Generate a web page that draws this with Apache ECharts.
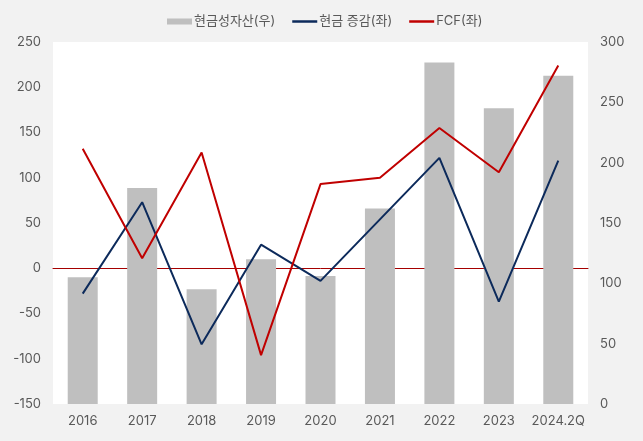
<!DOCTYPE html>
<html><head><meta charset="utf-8">
<script src="https://cdn.jsdelivr.net/npm/echarts@6/dist/echarts.min.js"></script>
<style>html,body{margin:0;padding:0;background:#f2f2f2;}#c{width:643px;height:441px;}</style>
</head><body><div id="c"></div>
<script>
const categories = ['2016','2017','2018','2019','2020','2021','2022','2023','2024.2Q'];
const cashAssets = [105, 179, 95, 120, 106, 162, 283, 245, 272];
const cashChange = [-28, 73, -84, 26, -14, 54, 122, -37, 119];
const fcf = [132, 11, 128, -96, 93, 100, 155, 106, 224];
const leftTicks = {min: -150, max: 250, interval: 50};
const rightTicks = {min: 0, max: 300, interval: 50};

const font = 'Inter, "Noto Sans CJK KR", sans-serif';
const chart = echarts.init(document.getElementById('c'));
chart.setOption({
  backgroundColor: '#f2f2f2',
  textStyle: {fontFamily: font},
  legend: {
    top: 10, left: 162, itemGap: 17, itemWidth: 25, itemHeight: 6,
    textStyle: {color: '#595959', fontSize: 13, fontFamily: font, padding: [0, 0, 0, -3]},
    data: [
      {name: '현금성자산(우)', icon: 'rect'},
      {name: '현금 증감(좌)', icon: 'path://M0,0L20,0L20,2L0,2Z'},
      {name: 'FCF(좌)', icon: 'path://M0,0L20,0L20,2L0,2Z'}
    ]
  },
  grid: {left: 53, right: 55, top: 42, bottom: 37, show: true, backgroundColor: '#ffffff', borderWidth: 0},
  xAxis: {
    type: 'category', data: categories,
    axisLine: {onZero: true, lineStyle: {color: '#a50000', width: 1}},
    axisTick: {show: false},
    axisLabel: {color: '#595959', fontSize: 13, margin: 11, interval: 0},
    position: 'bottom'
  },
  yAxis: [
    {type: 'value', min: leftTicks.min, max: leftTicks.max, interval: leftTicks.interval,
     axisLabel: {color: '#595959', fontSize: 13, margin: 12},
     splitLine: {show: false}, axisLine: {show: false}, axisTick: {show: false}},
    {type: 'value', min: rightTicks.min, max: rightTicks.max, interval: rightTicks.interval,
     axisLabel: {color: '#595959', fontSize: 13, margin: 12, align: 'left'},
     splitLine: {show: false}, axisLine: {show: false}, axisTick: {show: false}}
  ],
  series: [
    {name: '현금성자산(우)', type: 'bar', yAxisIndex: 1, data: cashAssets, barWidth: 30,
     itemStyle: {color: '#bfbfbf'}, z: 1},
    {name: '현금 증감(좌)', type: 'line', yAxisIndex: 0, data: cashChange, symbol: 'none',
     lineStyle: {color: '#0c2a5b', width: 2}, itemStyle: {color: '#0c2a5b'}, z: 3},
    {name: 'FCF(좌)', type: 'line', yAxisIndex: 0, data: fcf, symbol: 'none',
     lineStyle: {color: '#c00000', width: 2}, itemStyle: {color: '#c00000'}, z: 4}
  ]
});
</script></body></html>
